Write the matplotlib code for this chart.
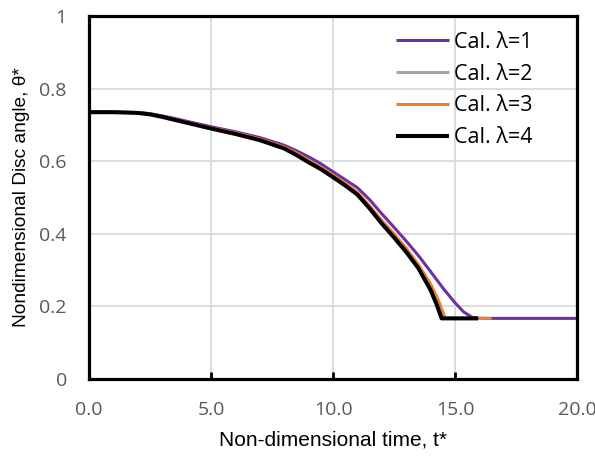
import matplotlib
matplotlib.use("Agg")
import matplotlib.pyplot as plt

# Non-dimensional time samples and disc angle for each calculation
t_lam1 = [0, 1, 2, 2.5, 3, 3.5, 4, 5, 6, 7, 8, 8.5, 9, 9.5, 10, 10.5, 11, 11.5, 12, 12.5, 13,
          13.5, 14, 14.5, 15, 15.35, 15.7, 16.0, 20.0]
th_lam1 = [0.735, 0.735, 0.734, 0.731, 0.725, 0.718, 0.710, 0.695, 0.681, 0.665, 0.644, 0.629, 0.612,
           0.593, 0.571, 0.549, 0.527, 0.494, 0.455, 0.418, 0.380, 0.340, 0.296, 0.251, 0.210,
           0.185, 0.170, 0.167, 0.167]

t_lam2 = [0, 1, 2, 2.5, 3, 3.5, 4, 5, 6, 7, 8, 8.5, 9, 9.5, 10, 10.5, 11, 11.5, 12, 12.5, 13,
          13.5, 14, 14.3, 14.58, 16.2]
th_lam2 = [0.735, 0.735, 0.734, 0.730, 0.723, 0.715, 0.707, 0.691, 0.677, 0.660, 0.637, 0.621, 0.600,
           0.581, 0.560, 0.537, 0.512, 0.475, 0.434, 0.397, 0.357, 0.312, 0.258, 0.215, 0.167, 0.167]

t_lam3 = [0, 1, 2, 2.5, 3, 3.5, 4, 5, 6, 7, 8, 8.5, 9, 9.5, 10, 10.5, 11, 11.5, 12, 12.5, 13,
          13.5, 14, 14.3, 14.6, 16.5]
th_lam3 = [0.735, 0.735, 0.734, 0.730, 0.723, 0.715, 0.707, 0.692, 0.678, 0.661, 0.639, 0.623, 0.602,
           0.583, 0.562, 0.539, 0.514, 0.477, 0.437, 0.400, 0.360, 0.315, 0.262, 0.220, 0.167, 0.167]

t_lam4 = [0, 1, 2, 2.5, 3, 3.5, 4, 5, 6, 7, 8, 8.5, 9, 9.5, 10, 10.5, 11, 11.5, 12, 12.5, 13,
          13.5, 14, 14.25, 14.45, 15.95]
th_lam4 = [0.735, 0.735, 0.733, 0.729, 0.722, 0.714, 0.706, 0.690, 0.675, 0.658, 0.635, 0.617, 0.597,
           0.578, 0.556, 0.533, 0.508, 0.470, 0.428, 0.390, 0.350, 0.305, 0.245, 0.205, 0.167, 0.167]

labels = ["Cal. \u03bb=1", "Cal. \u03bb=2", "Cal. \u03bb=3", "Cal. \u03bb=4"]
colors = ["#7030a0", "#a5a5a5", "#ed7d31", "#000000"]
x_ticks = [0, 5, 10, 15, 20]
x_ticklabels = ["0.0", "5.0", "10.0", "15.0", "20.0"]
y_ticks = [0, 0.2, 0.4, 0.6, 0.8, 1.0]
y_ticklabels = ["0", "0.2", "0.4", "0.6", "0.8", "1"]

fig = plt.figure(figsize=(5.95, 4.57), dpi=100)
ax = fig.add_axes([89 / 595, 78 / 457, 488 / 595, 363 / 457])

series = [(t_lam1, th_lam1), (t_lam2, th_lam2), (t_lam3, th_lam3), (t_lam4, th_lam4)]
widths = [2.2, 2.2, 2.2, 2.9]
order = [1, 0, 2, 3]
handles = [None] * 4
for i in order:
    t, th = series[i]
    (h,) = ax.plot(t, th, color=colors[i], lw=widths[i], solid_capstyle="butt",
                   solid_joinstyle="round", label=labels[i], zorder=3 + i)
    handles[i] = h

ax.set_xlim(0, 20)
ax.set_ylim(0, 1)
ax.set_xticks(x_ticks)
ax.set_xticklabels(x_ticklabels)
ax.set_yticks(y_ticks)
ax.set_yticklabels(y_ticklabels)

tick_font = "Open Sans"
for lab in ax.get_xticklabels() + ax.get_yticklabels():
    lab.set_fontfamily(tick_font)
    lab.set_fontsize(14)
    lab.set_color("#595959")

ax.grid(True, color="#d9d9d9", lw=1.3, zorder=0)
ax.set_axisbelow(True)
for s in ax.spines.values():
    s.set_linewidth(2.3)
    s.set_color("black")
    s.set_zorder(10)

ax.tick_params(axis="x", direction="in", length=5, width=2, color="black", pad=16)
ax.tick_params(axis="y", length=0, pad=16)
ax.tick_params(axis="x", top=False)

ax.set_xlabel("Non-dimensional time, t*", fontfamily="Liberation Sans", fontsize=15, labelpad=8)
ax.set_ylabel("Nondimensional Disc angle, \u03b8*", fontfamily="Liberation Sans", fontsize=13.8,
              labelpad=7)

leg = ax.legend(handles=handles, loc="upper right", bbox_to_anchor=(543 / 595, 1 - 21 / 457),
                bbox_transform=fig.transFigure, frameon=False, handlelength=2.45,
                handletextpad=0.22, labelspacing=0.5, borderpad=0,
                prop={"family": "Open Sans", "size": 15.5})

fig.savefig("out.png", dpi=100)
